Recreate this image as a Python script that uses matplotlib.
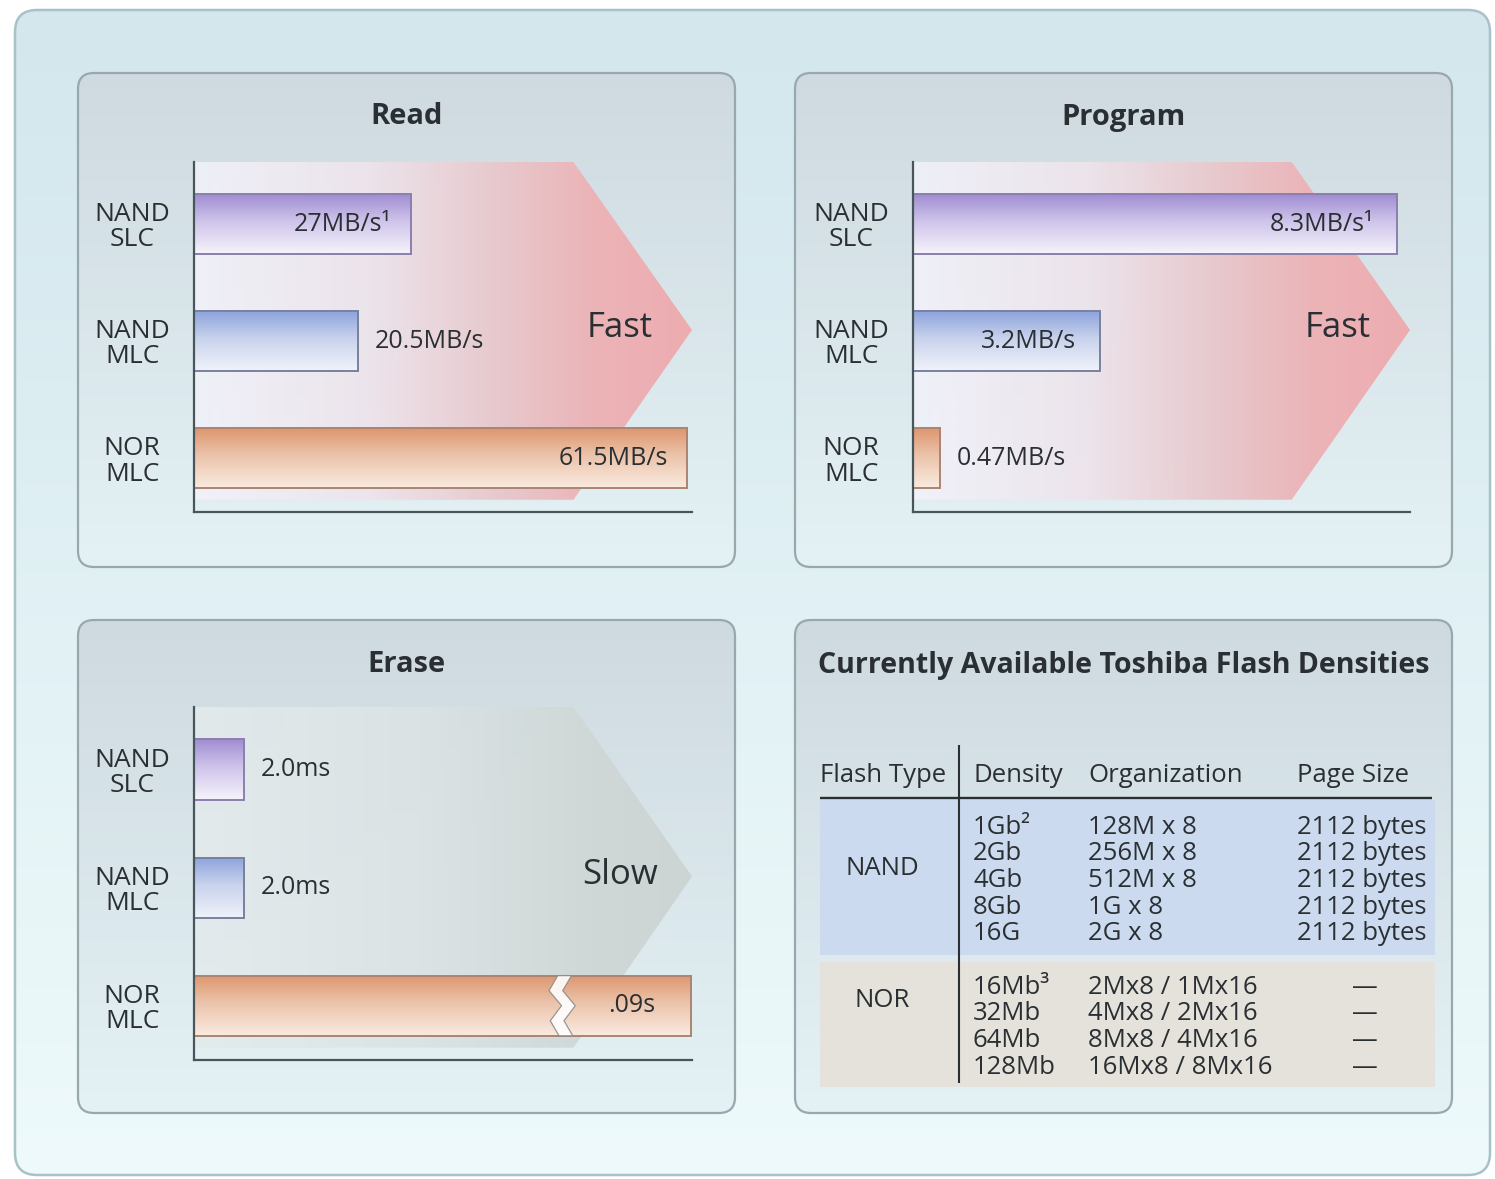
import numpy as np
import matplotlib
matplotlib.use("Agg")
import matplotlib.pyplot as plt
from matplotlib.patches import FancyBboxPatch, Polygon, Rectangle
from matplotlib.image import AxesImage

plt.rcParams['font.family'] = ['Open Sans', 'DejaVu Sans']

# ---------------- data ----------------
row_top = ["NAND", "NAND", "NOR"]
row_bottom = ["SLC", "MLC", "MLC"]

read_mbps = [27.0, 20.5, 61.5]
read_text = ["27MB/s¹", "20.5MB/s", "61.5MB/s"]

program_mbps = [8.3, 3.2, 0.47]
program_text = ["8.3MB/s¹", "3.2MB/s", "0.47MB/s"]

erase_ms = [2.0, 2.0, 90.0]
erase_text = ["2.0ms", "2.0ms", ".09s"]

table_title = "Currently Available Toshiba Flash Densities"
table_columns = ["Flash Type", "Density", "Organization", "Page Size"]
nand_density = ["1Gb²", "2Gb", "4Gb", "8Gb", "16G"]
nand_org = ["128M x 8", "256M x 8", "512M x 8", "1G x 8", "2G x 8"]
nand_page = ["2112 bytes", "2112 bytes", "2112 bytes", "2112 bytes", "2112 bytes"]
nor_density = ["16Mb³", "32Mb", "64Mb", "128Mb"]
nor_org = ["2Mx8 / 1Mx16", "4Mx8 / 2Mx16", "8Mx8 / 4Mx16", "16Mx8 / 8Mx16"]
nor_page = ["—", "—", "—", "—"]

# ---------------- styling ----------------
W, H = 1495, 1179
DPI = 100
INK = '#2a2f33'
AXIS = '#48555a'

bar_fills = [
    [(0, (160, 140, 210)), (0.45, (206, 196, 234)), (1, (247, 243, 252))],
    [(0, (140, 163, 220)), (0.45, (200, 210, 236)), (1, (240, 243, 250))],
    [(0, (222, 150, 110)), (0.45, (235, 195, 170)), (1, (250, 235, 224))],
]
bar_edges = ['#8a7fae', '#77819f', '#a98572']

pink_arrow = [(0, (242, 242, 250, 230)), (0.35, (238, 228, 236, 240)),
              (0.6, (232, 202, 206, 250)), (0.8, (236, 180, 184, 255)),
              (1, (237, 172, 176, 255))]
grey_arrow = [(0, (228, 235, 237, 220)), (0.45, (220, 227, 228, 240)),
              (0.8, (207, 215, 215, 255)), (1, (204, 212, 212, 255))]

TITLE_FS = 21
LABEL_FS = 19
VALUE_FS = 18
WORD_FS = 25
TABLE_FS = 18.5

fig = plt.figure(figsize=(W / DPI, H / DPI), dpi=DPI, facecolor='white')
bg = fig.add_axes([0, 0, 1, 1])
bg.set_axis_off()


def ramp(stops, n=256):
    pos = np.array([s[0] for s in stops], float)
    cols = np.array([s[1] for s in stops], float) / 255.0
    t = np.linspace(0, 1, n)
    return np.stack([np.interp(t, pos, cols[:, k]) for k in range(cols.shape[1])], axis=-1)


def rounded_panel(x0, y0, x1, y1, top, bottom, edge, r, lw=1.6):
    box = FancyBboxPatch((x0, y0), x1 - x0, y1 - y0,
                         boxstyle=f"round,pad=0,rounding_size={r}",
                         fc='none', ec=edge, lw=lw, zorder=2)
    bg.add_patch(box)
    img = ramp([(0, top), (1, bottom)])[:, None, :]
    im = bg.imshow(img, extent=(x0, x1, y1, y0), origin='upper', aspect='auto',
                   interpolation='bilinear', zorder=1)
    im.set_clip_path(box)


def px_rect(x0, y0, x1, y1):
    return [x0 / W, 1 - y1 / H, (x1 - x0) / W, (y1 - y0) / H]


def axes_image(ax, rgba, extent, clip, zorder):
    im = AxesImage(ax, origin='upper', interpolation='bilinear', extent=extent,
                   transform=ax.transAxes, zorder=zorder)
    im.set_data(rgba)
    ax.add_artist(im)
    im.set_clip_path(clip)
    return im


# outer frame
rounded_panel(15, 10, 1490, 1175, (211, 231, 237), (238, 250, 251), '#a9c2c8', 22, lw=1.8)

PANEL_TOP = (206, 218, 223)
PANEL_BOT = (228, 241, 245)
PANEL_EDGE = '#98a9ae'


def bar_chart(frame, plot, title, values, texts, inside, in_pad, xmax,
              arrow_stops, word, scale=None):
    fx0, fy0, fx1, fy1 = frame
    rounded_panel(fx0, fy0, fx1, fy1, PANEL_TOP, PANEL_BOT, PANEL_EDGE, 16)
    bg.text((fx0 + fx1) / 2, fy0 + 44, title, ha='center', va='center',
            fontsize=TITLE_FS, fontweight='bold', color=INK, zorder=5)

    ax = fig.add_axes(px_rect(*plot))
    ax.patch.set_visible(False)
    if scale is not None:
        ax.set_xscale('function', functions=scale)
    n = len(values)
    ypos = np.arange(n)
    ylim = (n - 1 + 0.46, -0.53)

    # background arrow
    arrow = Polygon([(0, 1), (0.762, 1), (1, 0.52), (0.762, 0.035), (0, 0.035)],
                    closed=True, transform=ax.transAxes, fc='none', ec='none')
    ax.add_patch(arrow)
    axes_image(ax, ramp(arrow_stops)[None, :, :], (0, 1, 0.035, 1), arrow, 1)
    ax.text(0.855, 0.525, word, transform=ax.transAxes, ha='center', va='center',
            fontsize=WORD_FS, color=INK, zorder=6)

    bars = ax.barh(ypos, values, height=0.51, left=0, color='none', linewidth=1.4, zorder=4)
    for bar, stops, ec in zip(bars, bar_fills, bar_edges):
        bar.set_edgecolor(ec)
        y_lo, y_hi = bar.get_y(), bar.get_y() + bar.get_height()
        fa = (y_lo - ylim[0]) / (ylim[1] - ylim[0])
        fb = (y_hi - ylim[0]) / (ylim[1] - ylim[0])
        a, b = sorted([fa, fb])
        axes_image(ax, ramp(stops)[:, None, :], (0, 1, a, b), bar, 3)

    for bar, v, txt, ins in zip(bars, values, texts, inside):
        yc = bar.get_y() + bar.get_height() / 2
        ax.annotate(txt, xy=(v, yc), xytext=(-in_pad if ins else 12, 0),
                    textcoords='offset points', ha='right' if ins else 'left',
                    va='center', fontsize=VALUE_FS, color=INK, zorder=6)

    ax.set_xlim(0, xmax)
    ax.set_ylim(*ylim)
    ax.set_xticks([])
    ax.set_yticks(ypos, [f"{a}\n{b}" for a, b in zip(row_top, row_bottom)])
    ax.tick_params(axis='y', length=0, pad=44.5)
    for t in ax.get_yticklabels():
        t.set_ha('center')
        t.set_fontsize(LABEL_FS)
        t.set_color(INK)
        t.set_linespacing(1.02)
    for side in ('top', 'right'):
        ax.spines[side].set_visible(False)
    for side in ('left', 'bottom'):
        ax.spines[side].set_color(AXIS)
        ax.spines[side].set_linewidth(1.6)
        ax.spines[side].set_zorder(7)
    return ax, bars


# Read
bar_chart((78, 73, 735, 567), (194, 162, 692, 512), "Read", read_mbps, read_text,
          [True, False, True], 14, 62.1, pink_arrow, "Fast")

# Program
bar_chart((795, 73, 1452, 567), (913, 162, 1410, 512), "Program", program_mbps, program_text,
          [True, True, False], 17, 8.52, pink_arrow, "Fast")

# Erase: linear up to the break, compressed beyond it
BRK, SQZ = 16.0, 0.0524


def fwd(x):
    x = np.asarray(x, float)
    return np.where(x <= BRK, x, BRK + (x - BRK) * SQZ)


def inv(y):
    y = np.asarray(y, float)
    return np.where(y <= BRK, y, BRK + (y - BRK) / SQZ)


ax_e, bars_e = bar_chart((78, 620, 735, 1113), (194, 707, 692, 1060), "Erase", erase_ms, erase_text,
                         [False, False, True], 26, 90.8, grey_arrow, "Slow", scale=(fwd, inv))

# break mark across the long NOR bar
nb = bars_e[2]
yt, hb = nb.get_y(), nb.get_height()
fr = np.array([0, 0.25, 0.5, 0.75, 1.0])
zig = np.array([0.35, 0.0, 0.5, 0.05, 0.4])
left_x = 14.2 + zig
right_x = left_x + 0.55
ys = yt + fr * hb
pts = list(zip(left_x, ys)) + list(zip(right_x[::-1], ys[::-1]))
ax_e.add_patch(Polygon(pts, closed=True, transform=ax_e.transData, fc='white',
                       ec='#8c8c8c', lw=0.9, alpha=0.9, zorder=5))

# ---------------- density table ----------------
tx0, ty0, tx1, ty1 = 795, 620, 1452, 1113
rounded_panel(tx0, ty0, tx1, ty1, PANEL_TOP, PANEL_BOT, PANEL_EDGE, 16)
bg.text((tx0 + tx1) / 2, ty0 + 45, table_title, ha='center', va='center',
        fontsize=20.5, fontweight='bold', color=INK, zorder=5)

col_x = [820, 973, 1088, 1297]
header_y = 775
step = 26.7
nand_y0, nor_y0 = 827, 987

bg.add_patch(Rectangle((820, 800), 615, 155, fc=(203 / 255, 218 / 255, 238 / 255), ec='none', zorder=3))
bg.add_patch(Rectangle((820, 962), 615, 125, fc=(229 / 255, 225 / 255, 219 / 255), ec='none', zorder=3))

for x, name in zip(col_x, table_columns):
    bg.text(x, header_y, name, ha='left', va='center', fontsize=TABLE_FS, color=INK, zorder=5)
bg.plot([820, 1432], [798, 798], color=INK, lw=1.7, zorder=5, solid_capstyle='butt')
bg.plot([959, 959], [745, 1083], color=INK, lw=1.5, zorder=5, solid_capstyle='butt')

groups = [("NAND", nand_y0, 1.55, nand_density, nand_org, nand_page),
          ("NOR", nor_y0, 0.5, nor_density, nor_org, nor_page)]
for gname, y0, goff, dens, org, page in groups:
    bg.text(882, y0 + goff * step, gname, ha='center', va='center', fontsize=TABLE_FS,
            color=INK, zorder=5)
    for i, (d, o, p) in enumerate(zip(dens, org, page)):
        y = y0 + i * step
        bg.text(col_x[1], y, d, ha='left', va='center', fontsize=TABLE_FS, color=INK, zorder=5)
        bg.text(col_x[2], y, o, ha='left', va='center', fontsize=TABLE_FS, color=INK, zorder=5)
        if p == "—":
            bg.text(1365, y, p, ha='center', va='center', fontsize=TABLE_FS, color=INK, zorder=5)
        else:
            bg.text(col_x[3], y, p, ha='left', va='center', fontsize=TABLE_FS, color=INK, zorder=5)

bg.set_xlim(0, W)
bg.set_ylim(H, 0)

fig.savefig("out.png", dpi=DPI, facecolor='white')
